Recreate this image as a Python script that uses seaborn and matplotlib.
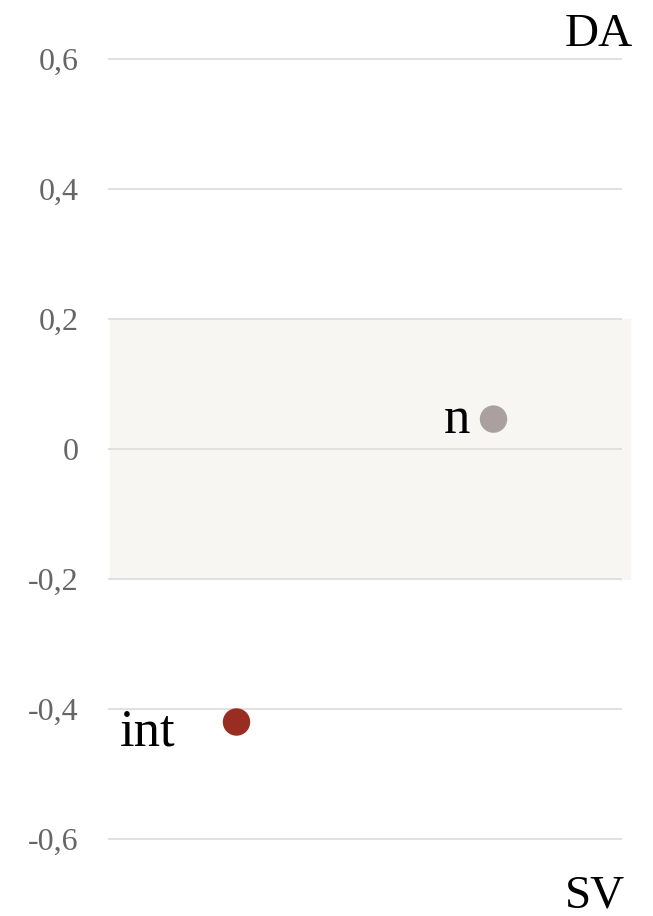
import matplotlib
matplotlib.use("Agg")
import matplotlib.pyplot as plt
import seaborn as sns
import pandas as pd

# data
categories = ["int", "n"]
values = [-0.42, 0.046]
colors = ["#992d22", "#aaa0a0"]
yticks = [-0.6, -0.4, -0.2, 0.0, 0.2, 0.4, 0.6]
ytick_labels = ["-0,6", "-0,4", "-0,2", "0", "0,2", "0,4", "0,6"]
top_label = "DA"
bottom_label = "SV"

sns.set_theme(style="white")
plt.rcParams["font.family"] = ["Liberation Serif", "DejaVu Serif"]

W, H = 653, 916
fig = plt.figure(figsize=(W / 100, H / 100), dpi=100)
ax = fig.add_axes([108 / W, 0, 514 / W, 1])

df = pd.DataFrame({"cat": categories, "val": values})
sns.scatterplot(data=df, x="cat", y="val", hue="cat", palette=dict(zip(categories, colors)),
                s=390, edgecolor="none", legend=False, ax=ax, zorder=3)

ax.set_xlim(-0.5, 1.5)
ax.set_ylim(-467 / 650, 449 / 650)

# shaded neutral band
ax.axhspan(-0.2, 0.2, xmin=2 / 514, xmax=522 / 514, color="#f7f6f2", zorder=0, clip_on=False)

for yv in yticks:
    ax.axhline(yv, color="#dcdcdc", lw=1.2, zorder=1)

ax.set_yticks(yticks)
ax.set_yticklabels(ytick_labels, color="#666666", fontsize=23)
ax.tick_params(axis="y", length=0, pad=21)
ax.set_xticks([])
ax.set_xlabel("")
ax.set_ylabel("")
for sp in ax.spines.values():
    sp.set_visible(False)
ax.patch.set_alpha(0)

offsets = {"int": (-44, -17), "n": (-16.5, -10)}
for i, (c, v) in enumerate(zip(categories, values)):
    ax.annotate(c, (i, v), xytext=offsets[c],
                textcoords="offset points", ha="right", va="baseline",
                fontsize=38, color="black")

fig.text(633 / W, 1 - 46 / H, top_label, ha="right", va="baseline", fontsize=34, color="black")
fig.text(625 / W, 1 - 907 / H, bottom_label, ha="right", va="baseline", fontsize=34, color="black")

fig.savefig("out.png", dpi=100)
